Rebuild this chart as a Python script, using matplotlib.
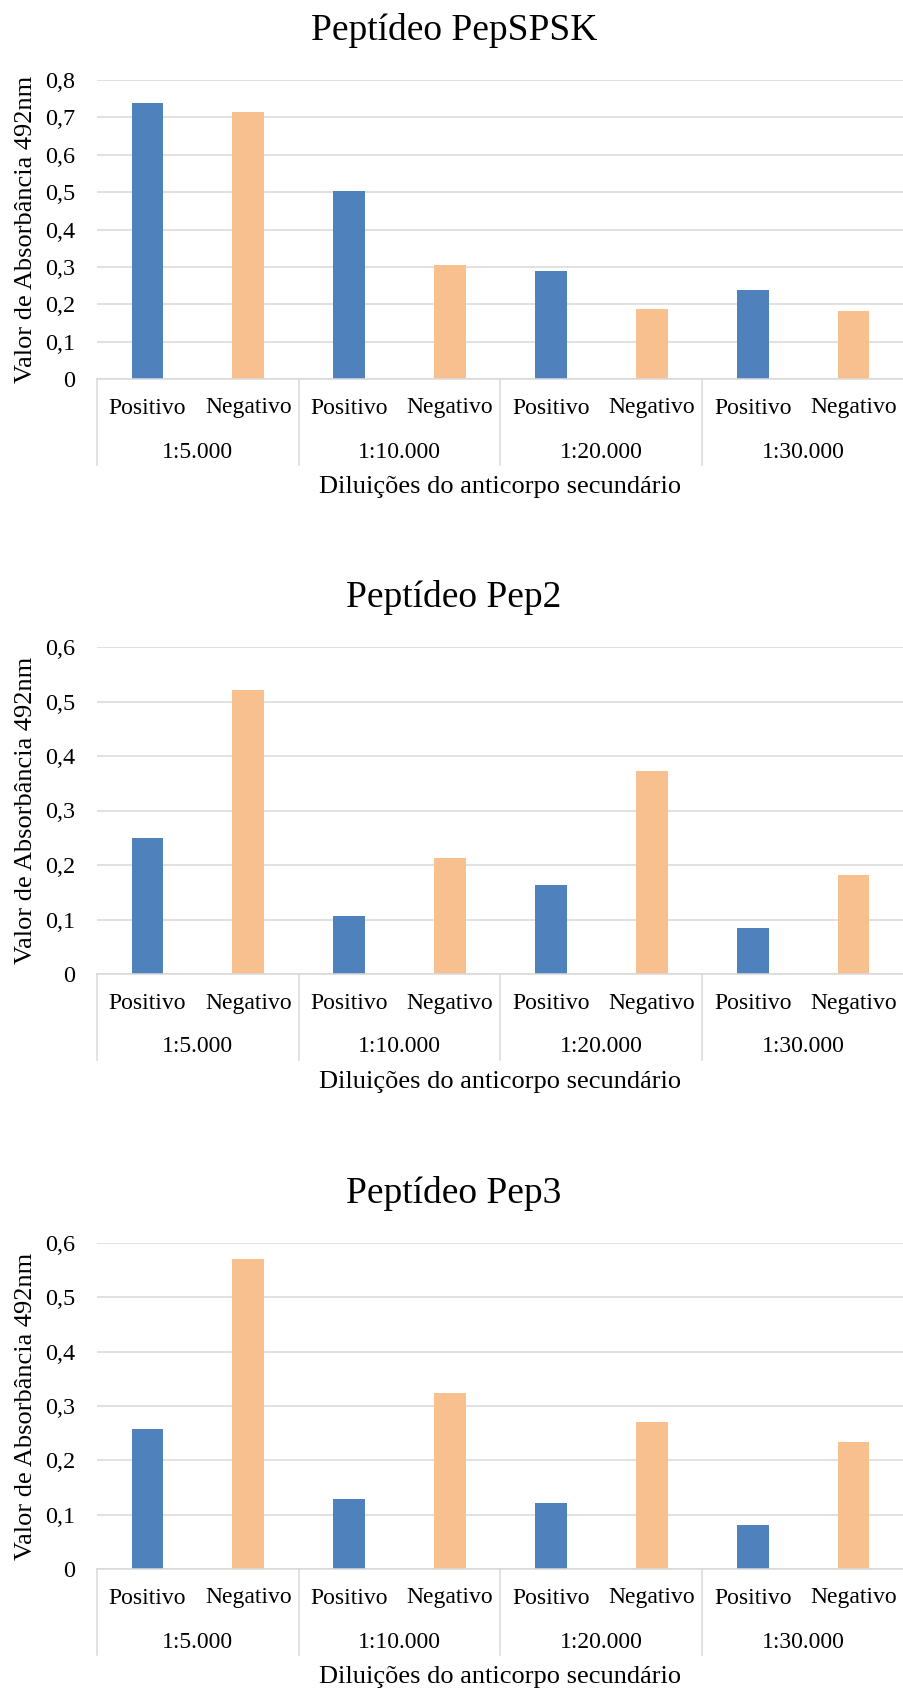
import matplotlib
matplotlib.use("Agg")
import matplotlib.pyplot as plt
from matplotlib.ticker import FuncFormatter, MultipleLocator

plt.rcParams['font.family'] = ['Liberation Serif', 'DejaVu Serif']

# ---- data ----
results = ["Positivo", "Negativo"]
dilutions = ["1:5.000", "1:10.000", "1:20.000", "1:30.000"]
titles = ["Peptídeo PepSPSK", "Peptídeo Pep2", "Peptídeo Pep3"]
ymax_list = [0.8, 0.6, 0.6]

pepspsk_pos = [0.738, 0.502, 0.290, 0.238]
pepspsk_neg = [0.714, 0.304, 0.187, 0.182]
pep2_pos = [0.249, 0.107, 0.164, 0.084]
pep2_neg = [0.521, 0.212, 0.373, 0.181]
pep3_pos = [0.258, 0.128, 0.121, 0.081]
pep3_neg = [0.571, 0.324, 0.271, 0.233]

series = [(pepspsk_pos, pepspsk_neg), (pep2_pos, pep2_neg), (pep3_pos, pep3_neg)]

xlabel = "Diluições do anticorpo secundário"
ylabel = "Valor de Absorbância 492nm"

BLUE = "#4F81BD"
ORANGE = "#F9C08F"
GRID = "#D9D9D9"

W, H = 904, 1691
fig = plt.figure(figsize=(W / 100, H / 100), dpi=100)

# (top, bottom) in pixels for each plot area
boxes = [(80, 379), (647, 974), (1243, 1569)]
left_px, right_px = 97, 904

for (top, bottom), title, ymax, (pos, neg) in zip(boxes, titles, ymax_list, series):
    h_px = bottom - top
    w_px = right_px - left_px
    ax = fig.add_axes([left_px / W, 1 - bottom / H, w_px / W, h_px / H])

    xs, vals, cols, labels = [], [], [], []
    for i in range(len(dilutions)):
        for j, (arr, c) in enumerate(((pos, BLUE), (neg, ORANGE))):
            xs.append(2 * i + j)
            vals.append(arr[i])
            cols.append(c)
            labels.append(results[j])
    ax.bar(xs, vals, width=0.315, color=cols, zorder=3)

    ax.set_xlim(-0.5, 2 * len(dilutions) - 0.5)
    ax.set_ylim(0, ymax)
    ax.yaxis.set_major_locator(MultipleLocator(0.1))
    ax.yaxis.set_major_formatter(FuncFormatter(
        lambda v, p: "0" if abs(v) < 1e-9 else f"{v:.1f}".replace(".", ",")))
    ax.grid(axis='y', color=GRID, linewidth=1.1, zorder=0)
    ax.set_axisbelow(True)

    for s in ("top", "right", "left"):
        ax.spines[s].set_visible(False)
    ax.spines["bottom"].set_color(GRID)
    ax.spines["bottom"].set_linewidth(1.1)
    ax.spines["bottom"].set_zorder(4)

    ax.tick_params(axis='y', length=0, pad=15.8, labelsize=17.5)
    ax.set_xticks(xs, labels)
    ax.tick_params(axis='x', length=0, pad=29 * 0.72, labelsize=17)
    for lbl in ax.get_xticklabels():
        lbl.set_va('center')

    trans = ax.get_xaxis_transform()
    # group separators
    for k in range(len(dilutions) + 1):
        ax.plot([2 * k - 0.5, 2 * k - 0.5], [0, -86 / h_px], transform=trans,
                color=GRID, linewidth=1.1, clip_on=False)
    # dilution labels
    for i, d in enumerate(dilutions):
        ax.text(2 * i + 0.5, -73 / h_px, d, transform=trans, ha='center', va='center',
                fontsize=17)

    ax.set_xlabel(xlabel, fontsize=19, va='center')
    ax.xaxis.set_label_coords(0.5, -108 / h_px)
    ax.set_ylabel(ylabel, fontsize=19, va='center')
    ax.yaxis.set_label_coords((26 - left_px) / w_px, 0.5)

    ax.set_title(title, fontsize=27, pad=40 * 0.72, x=(454 - left_px) / w_px)

fig.savefig("out.png", dpi=100, facecolor="white")
